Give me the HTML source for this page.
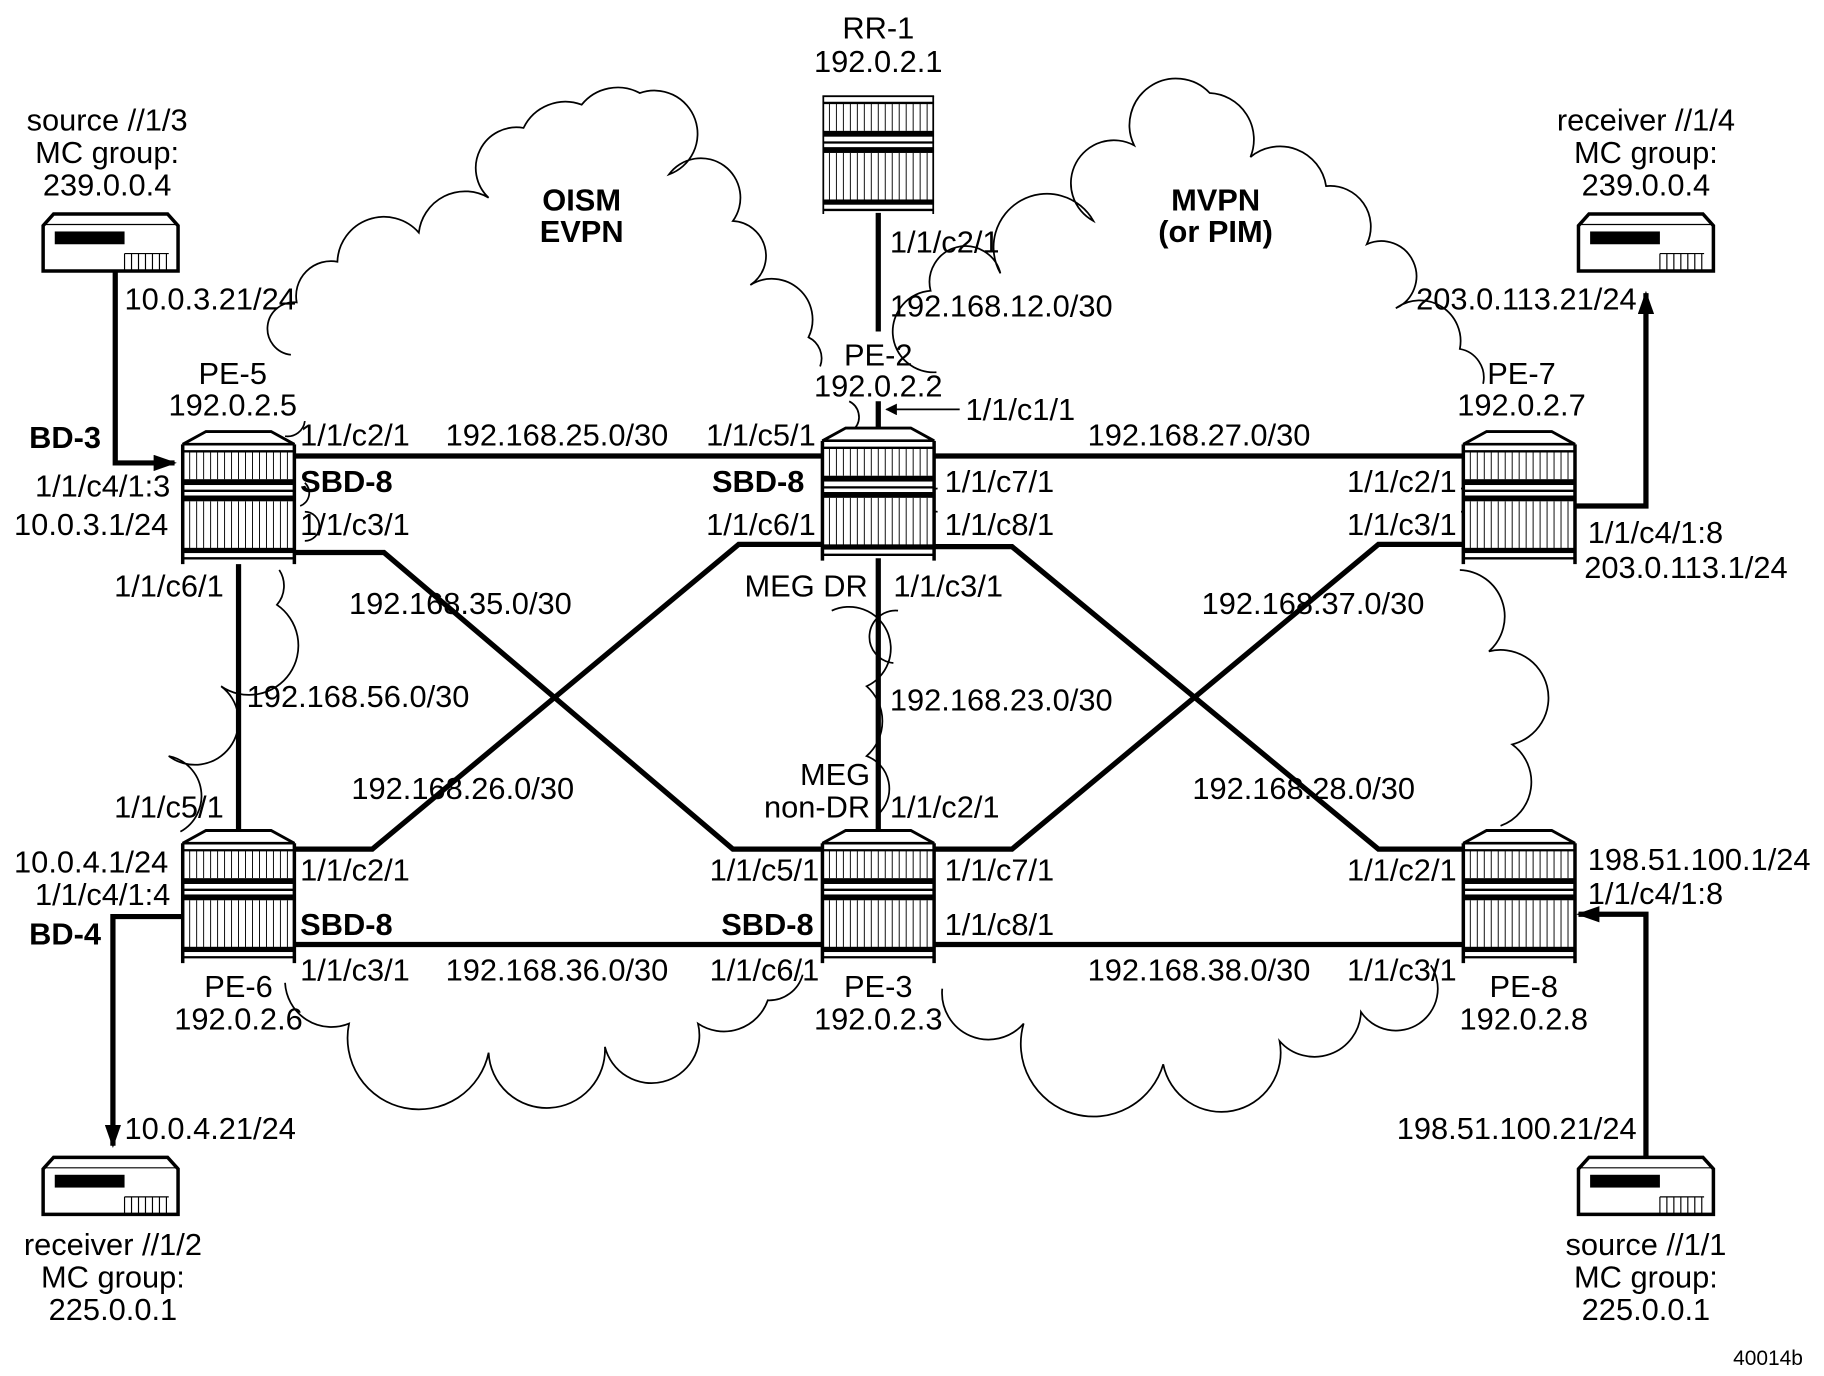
<!DOCTYPE html>
<html><head><meta charset="utf-8"><style>
html,body{margin:0;padding:0;background:#fff}
svg{display:block}
text{font-family:"Liberation Sans",Arial,sans-serif;font-size:26.5px;fill:#000;dominant-baseline:central}
.b{font-weight:bold}
.m{text-anchor:middle}
.e{text-anchor:end}
</style></head><body>
<svg width="1824" height="1376" viewBox="0 0 1568 1183" xmlns="http://www.w3.org/2000/svg">
<defs>
<g id="rt">
<polygon points="0,11 20,0 76,0 96,11" fill="#fff" stroke="#000" stroke-width="2.5"/>
<rect x="0" y="11" width="96" height="98" fill="#fff"/>
<g stroke="#000" stroke-width="0.8">
<path d="M6 17v24M12 17v24M18 17v24M24 17v24M30 17v24M36 17v24M42 17v24M48 17v24M54 17v24M60 17v24M66 17v24M72 17v24M78 17v24M84 17v24M90 17v24"/>
<path d="M6 60v41M12 60v41M18 60v41M24 60v41M30 60v41M36 60v41M42 60v41M48 60v41M54 60v41M60 60v41M66 60v41M72 60v41M78 60v41M84 60v41M90 60v41"/>
</g>
<g fill="#000">
<rect x="0" y="41" width="96" height="5"/>
<rect x="0" y="55" width="96" height="5"/>
<rect x="0" y="100" width="96" height="4.5"/>
</g>
<g stroke="#000" fill="none">
<path d="M0 11v103M96 11v103" stroke-width="3"/>
<path d="M0 11h96M0 17h96M0 51h96M0 109h96" stroke-width="2"/>
</g>
</g>
<g id="host">
<path d="M0 49V10L9 0H107L116 10V49Z" fill="#fff" stroke="#000" stroke-width="3"/>
<path d="M2 9H114" stroke="#000" stroke-width="1"/>
<rect x="10" y="15" width="60" height="11" fill="#000"/>
<path d="M70 34v14M76 34v14M82 34v14M88 34v14M94 34v14M100 34v14M106 34v14M70 34h38" stroke="#000" stroke-width="1"/>
</g>
<marker id="ar" markerWidth="10" markerHeight="10" refX="9" refY="5" orient="auto" markerUnits="userSpaceOnUse">
<path d="M0 0L10 5L0 10Z" fill="#000"/>
</marker>
<marker id="ar2" markerWidth="20" markerHeight="14" refX="18" refY="7" orient="auto" markerUnits="userSpaceOnUse">
<path d="M0 0L20 7L0 14Z" fill="#000"/>
</marker>
</defs>

<!-- clouds -->
<g fill="none" stroke="#000" stroke-width="1.5">
<path d="M250 305 A22 22 0 0 1 255 260 A30 30 0 0 1 290 225 A40 40 0 0 1 360 200 A40 40 0 0 1 420 170 A35 35 0 0 1 450 110 A40 40 0 0 1 500 90 A40 40 0 0 1 550 80 A35 35 0 0 1 575 150 A30 30 0 0 1 630 190 A30 30 0 0 1 645 245 A35 35 0 0 1 695 290 A20 20 0 0 1 705 315"/>
<path d="M805 320 A20 20 0 0 1 800 250 A30 30 0 0 1 860 235 A40 40 0 0 1 940 190 A35 35 0 0 1 975 125 A40 40 0 0 1 1040 80 A40 40 0 0 1 1075 135 A40 40 0 0 1 1140 160 A35 35 0 0 1 1175 210 A30 30 0 0 1 1200 265 A35 35 0 0 1 1255 300 A25 25 0 0 1 1275 330"/>
<path d="M730 345 A15 15 0 0 1 735 368"/>
<path d="M262 362 A15 15 0 0 1 245 375"/>
<path d="M262 415 A12 12 0 0 1 258 435"/>
<path d="M262 440 A12 12 0 0 1 262 465"/>
<path d="M240 490 A25 25 0 0 1 238 520 A30 30 0 0 1 190 590 A30 30 0 0 1 145 650 A35 35 0 0 1 155 715"/>
<path d="M1256 420 A10 10 0 0 1 1256 440"/>
<path d="M806 420 A10 10 0 0 0 806 440"/>
<path d="M1255 490 A40 40 0 0 1 1280 560 A40 40 0 0 1 1300 640 A40 40 0 0 1 1290 710"/>
<path d="M715 525 A35 35 0 0 1 745 590 A40 40 0 0 1 745 650 A30 30 0 0 1 755 700"/>
<path d="M772 525 A15 15 0 0 0 768 570"/>
<path d="M245 845 A40 40 0 0 0 300 880 A60 60 0 0 0 420 905 A50 50 0 0 0 520 900 A40 40 0 0 0 600 880 A40 40 0 0 0 660 860 A30 30 0 0 0 690 838"/>
<path d="M810 850 A40 40 0 0 0 880 880 A60 60 0 0 0 1000 915 A50 50 0 0 0 1100 895 A40 40 0 0 0 1170 870 A30 30 0 0 0 1230 830"/>
</g>

<!-- links -->
<g fill="none" stroke="#000" stroke-width="4.5">
<path d="M250 392H706M800 392H1260"/>
<path d="M250 475H330L630 730H706"/>
<path d="M706 468H635L320 730H250"/>
<path d="M800 470H870L1185 730H1260"/>
<path d="M1260 468H1185L870 730H800"/>
<path d="M205 485V715M755 480V715"/>
<path d="M250 812H706M800 812H1260"/>
<path d="M755 183V285M755 345V368"/>
<path d="M99 233V398H150" marker-end="url(#ar2)"/>
<path d="M1352 435H1415V252" marker-end="url(#ar2)"/>
<path d="M157 788H97V985" marker-end="url(#ar2)"/>
<path d="M1415 995V786H1357" marker-end="url(#ar2)"/>
</g>
<path d="M825 352H762" stroke="#000" stroke-width="1.5" marker-end="url(#ar)"/>

<!-- routers -->
<use href="#rt" x="157" y="371"/>
<use href="#rt" x="707" y="368"/>
<use href="#rt" x="1258" y="371"/>
<use href="#rt" x="157" y="714"/>
<use href="#rt" x="707" y="714"/>
<use href="#rt" x="1258" y="714"/>
<svg x="707" y="82" width="96" height="102" viewBox="0 11 96 101"><use href="#rt"/></svg>
<!-- hosts -->
<use href="#host" x="37" y="184"/>
<use href="#host" x="1357" y="184"/>
<use href="#host" x="37" y="995"/>
<use href="#host" x="1357" y="995"/>

<!-- labels -->
<text class="m" x="755" y="24">RR-1</text>
<text class="m" x="755" y="53">192.0.2.1</text>
<text class="m" x="92" y="103">source //1/3</text>
<text class="m" x="92" y="131">MC group:</text>
<text class="m" x="92" y="159">239.0.0.4</text>
<text class="m" x="1415" y="103">receiver //1/4</text>
<text class="m" x="1415" y="131">MC group:</text>
<text class="m" x="1415" y="159">239.0.0.4</text>
<text class="m b" x="500" y="172">OISM</text>
<text class="m b" x="500" y="199">EVPN</text>
<text class="m b" x="1045" y="172">MVPN</text>
<text class="m b" x="1045" y="199">(or PIM)</text>
<text x="765" y="208">1/1/c2/1</text>
<text x="107" y="257">10.0.3.21/24</text>
<text x="765" y="263">192.168.12.0/30</text>
<text class="e" x="1407" y="257">203.0.113.21/24</text>
<text class="m" x="200" y="321">PE-5</text>
<text class="m" x="200" y="348">192.0.2.5</text>
<text class="m" x="755" y="305">PE-2</text>
<text class="m" x="755" y="332">192.0.2.2</text>
<text class="m" x="1308" y="321">PE-7</text>
<text class="m" x="1308" y="348">192.0.2.7</text>
<text x="830" y="352">1/1/c1/1</text>
<text class="b" x="25" y="376">BD-3</text>
<text x="258" y="374">1/1/c2/1</text>
<text x="383" y="374">192.168.25.0/30</text>
<text x="607" y="374">1/1/c5/1</text>
<text x="935" y="374">192.168.27.0/30</text>
<text x="30" y="418">1/1/c4/1:3</text>
<text class="b" x="258" y="414">SBD-8</text>
<text class="b" x="612" y="414">SBD-8</text>
<text x="812" y="414">1/1/c7/1</text>
<text x="1158" y="414">1/1/c2/1</text>
<text x="12" y="451">10.0.3.1/24</text>
<text x="258" y="451">1/1/c3/1</text>
<text x="607" y="451">1/1/c6/1</text>
<text x="812" y="451">1/1/c8/1</text>
<text x="1158" y="451">1/1/c3/1</text>
<text x="1365" y="458">1/1/c4/1:8</text>
<text x="1362" y="488">203.0.113.1/24</text>
<text x="98" y="504">1/1/c6/1</text>
<text x="300" y="519">192.168.35.0/30</text>
<text x="640" y="504">MEG DR</text>
<text x="768" y="504">1/1/c3/1</text>
<text x="1033" y="519">192.168.37.0/30</text>
<text x="212" y="599">192.168.56.0/30</text>
<text x="765" y="602">192.168.23.0/30</text>
<text class="e" x="748" y="666">MEG</text>
<text class="e" x="748" y="694">non-DR</text>
<text x="765" y="694">1/1/c2/1</text>
<text x="302" y="678">192.168.26.0/30</text>
<text x="1025" y="678">192.168.28.0/30</text>
<text x="98" y="694">1/1/c5/1</text>
<text x="12" y="741">10.0.4.1/24</text>
<text x="258" y="748">1/1/c2/1</text>
<text x="610" y="748">1/1/c5/1</text>
<text x="812" y="748">1/1/c7/1</text>
<text x="1158" y="748">1/1/c2/1</text>
<text x="1365" y="739">198.51.100.1/24</text>
<text x="30" y="769">1/1/c4/1:4</text>
<text x="1365" y="768">1/1/c4/1:8</text>
<text class="b" x="258" y="795">SBD-8</text>
<text class="b" x="620" y="795">SBD-8</text>
<text x="812" y="795">1/1/c8/1</text>
<text class="b" x="25" y="803">BD-4</text>
<text x="258" y="834">1/1/c3/1</text>
<text x="383" y="834">192.168.36.0/30</text>
<text x="610" y="834">1/1/c6/1</text>
<text x="935" y="834">192.168.38.0/30</text>
<text x="1158" y="834">1/1/c3/1</text>
<text class="m" x="205" y="848">PE-6</text>
<text class="m" x="205" y="876">192.0.2.6</text>
<text class="m" x="755" y="848">PE-3</text>
<text class="m" x="755" y="876">192.0.2.3</text>
<text class="m" x="1310" y="848">PE-8</text>
<text class="m" x="1310" y="876">192.0.2.8</text>
<text x="107" y="970">10.0.4.21/24</text>
<text class="e" x="1407" y="970">198.51.100.21/24</text>
<text class="m" x="97" y="1070">receiver //1/2</text>
<text class="m" x="97" y="1098">MC group:</text>
<text class="m" x="97" y="1126">225.0.0.1</text>
<text class="m" x="1415" y="1070">source //1/1</text>
<text class="m" x="1415" y="1098">MC group:</text>
<text class="m" x="1415" y="1126">225.0.0.1</text>
<text class="e" x="1550" y="1168" style="font-size:18px">40014b</text>
</svg>
</body></html>
